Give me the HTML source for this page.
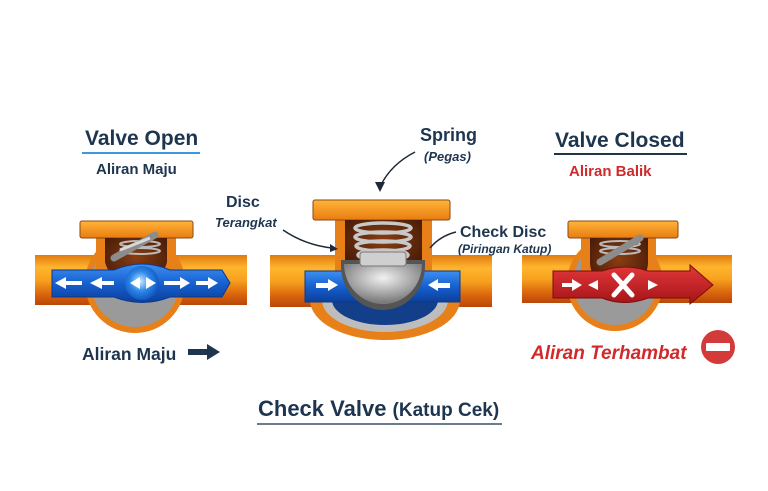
<!DOCTYPE html>
<html><head><meta charset="utf-8"><style>
html,body{margin:0;padding:0;background:#fff;}
svg{display:block;}
text{font-family:"Liberation Sans",sans-serif;font-weight:bold;}
</style></head><body>
<svg width="768" height="491" viewBox="0 0 768 491" xmlns="http://www.w3.org/2000/svg">
<defs>
<linearGradient id="pipe" x1="0" y1="0" x2="0" y2="1">
<stop offset="0" stop-color="#e07a10"/><stop offset="0.25" stop-color="#ffb52e"/><stop offset="0.5" stop-color="#f7a21e"/><stop offset="0.8" stop-color="#d8620c"/><stop offset="1" stop-color="#b9470a"/>
</linearGradient>
<linearGradient id="flange" x1="0" y1="0" x2="0" y2="1">
<stop offset="0" stop-color="#ffb43a"/><stop offset="1" stop-color="#e97c10"/>
</linearGradient>
<radialGradient id="cav" cx="0.5" cy="0.4" r="0.6"><stop offset="0" stop-color="#8a3d12"/><stop offset="1" stop-color="#4a1d08"/></radialGradient>
<linearGradient id="blue" x1="0" y1="0" x2="0" y2="1"><stop offset="0" stop-color="#3d8ff0"/><stop offset="0.5" stop-color="#1660d0"/><stop offset="1" stop-color="#0c3f9a"/></linearGradient>
<linearGradient id="red" x1="0" y1="0" x2="0" y2="1"><stop offset="0" stop-color="#e2383a"/><stop offset="1" stop-color="#a51418"/></linearGradient>
<radialGradient id="disc" cx="0.5" cy="0.35" r="0.6"><stop offset="0" stop-color="#f2f2f2"/><stop offset="1" stop-color="#7c7c7c"/></radialGradient>
<radialGradient id="ball" cx="0.45" cy="0.45" r="0.6"><stop offset="0" stop-color="#c9ecff"/><stop offset="0.5" stop-color="#2c86e8"/><stop offset="1" stop-color="#0d4fb8"/></radialGradient>
</defs>

<!-- LEFT VALVE -->
<rect x="35" y="255" width="212" height="50" fill="url(#pipe)"/>
<circle cx="135" cy="283" r="50" fill="#e8801a"/>
<circle cx="135" cy="283" r="44" fill="#9a9a9a"/>
<rect x="96" y="232" width="80" height="40" fill="#e8801a"/>
<rect x="80" y="221" width="113" height="17" rx="2" fill="url(#flange)" stroke="#8a4a10" stroke-width="1"/>
<path d="M105 238 H167 V262 A32 32 0 0 1 105 262 Z" fill="url(#cav)"/>
<g fill="none" stroke="#bbb" stroke-width="2"><ellipse cx="140" cy="244" rx="20" ry="3"/><ellipse cx="140" cy="251" rx="20" ry="3"/></g>
<path d="M114 258 L155 235" stroke="#8c8c8c" stroke-width="7" stroke-linecap="round"/>
<path d="M120 250 L150 238" stroke="#d8d8d8" stroke-width="3"/>
<path d="M52 270 H114 Q142 258 170 270 H222 L230 283 L222 297 H170 Q142 308 114 297 H52 Z" fill="url(#blue)" stroke="#0a3a8c" stroke-width="1"/>
<circle cx="142" cy="283" r="17" fill="url(#ball)"/>
<g fill="#fff">
<path d="M55 283 L66 277 V289 Z"/><rect x="64" y="281" width="18" height="4"/>
<path d="M90 283 L102 277 V289 Z"/><rect x="100" y="281" width="14" height="4"/>
<path d="M130 283 L140 277 V289 Z"/><path d="M156 283 L146 277 V289 Z"/>
<rect x="164" y="281" width="16" height="4"/><path d="M190 283 L180 277 V289 Z"/>
<rect x="196" y="281" width="12" height="4"/><path d="M218 283 L208 277 V289 Z"/>
</g>

<!-- CENTER VALVE -->
<rect x="270" y="255" width="222" height="52" fill="url(#pipe)"/>
<path d="M310 300 H460 A75 40 0 0 1 310 300 Z" fill="#e8801a"/>
<path d="M322 300 H448 A63 32 0 0 1 322 300 Z" fill="#bdbdbd"/>
<path d="M332 300 H438 A53 25 0 0 1 332 300 Z" fill="#123e8a"/>
<rect x="335" y="214" width="97" height="60" fill="#e8801a"/>
<rect x="313" y="200" width="137" height="20" rx="2" fill="url(#flange)" stroke="#8a4a10" stroke-width="1"/>
<path d="M345 220 H422 V270 H345 Z" fill="url(#cav)"/>
<rect x="305" y="271" width="155" height="31" fill="url(#blue)" stroke="#0a3a8c"/>
<g fill="none" stroke="#c8c8c8" stroke-width="3.5">
<ellipse cx="383" cy="228" rx="28" ry="5"/><ellipse cx="383" cy="237" rx="28" ry="5"/><ellipse cx="383" cy="246" rx="27" ry="5"/><ellipse cx="383" cy="255" rx="25" ry="5"/>
</g>
<path d="M341 266 A42 44 0 0 0 425 266 V260 H341 Z" fill="#555"/>
<path d="M344 264 A39 40 0 0 0 422 264 Z" fill="url(#disc)"/>
<rect x="360" y="252" width="46" height="14" rx="3" fill="#cfcfcf" stroke="#777"/>
<g fill="#fff"><rect x="316" y="283" width="14" height="5"/><path d="M338 285 L328 279 V291 Z"/>
<rect x="436" y="283" width="14" height="5"/><path d="M428 285 L438 279 V291 Z"/></g>

<!-- RIGHT VALVE -->
<rect x="522" y="255" width="210" height="48" fill="url(#pipe)"/>
<circle cx="615" cy="283" r="48" fill="#e8801a"/>
<circle cx="615" cy="283" r="42" fill="#9a9a9a"/>
<rect x="581" y="232" width="75" height="40" fill="#e8801a"/>
<rect x="568" y="221" width="110" height="17" rx="2" fill="url(#flange)" stroke="#8a4a10"/>
<path d="M590 238 H648 V262 A29 29 0 0 1 590 262 Z" fill="url(#cav)"/>
<g fill="none" stroke="#bbb" stroke-width="2"><ellipse cx="620" cy="244" rx="20" ry="3"/><ellipse cx="620" cy="251" rx="20" ry="3"/></g>
<path d="M600 262 L640 238" stroke="#8c8c8c" stroke-width="7" stroke-linecap="round"/>
<path d="M553 271 H602 Q625 263 648 271 H690 V265 L713 285 L690 304 V298 H648 Q625 307 602 298 H553 Z" fill="url(#red)" stroke="#7a0c0c"/>
<g fill="#fff"><rect x="562" y="283" width="12" height="4"/><path d="M582 285 L572 279 V291 Z"/>
<path d="M588 285 L598 280 V290 Z"/><path d="M658 285 L648 280 V290 Z"/></g>
<path d="M614 275 L632 295 M632 275 L614 295" stroke="#fff" stroke-width="5" stroke-linecap="round"/>

<!-- TEXT -->
<text x="85" y="145" font-size="21" fill="#1e3550">Valve Open</text>
<rect x="82" y="152" width="118" height="2" fill="#3d98e0"/>
<text x="96" y="174" font-size="15" fill="#1e3550">Aliran Maju</text>

<text x="420" y="141" font-size="18" fill="#1e3550">Spring</text>
<text x="424" y="161" font-size="13" font-style="italic" fill="#1e3550">(Pegas)</text>
<path d="M415 152 Q390 165 380 187" fill="none" stroke="#1e2a3a" stroke-width="1.5"/>
<path d="M375 182 L380 192 L385 182 Z" fill="#1e2a3a"/>

<text x="555" y="147" font-size="21" fill="#1e3550">Valve Closed</text>
<rect x="554" y="153" width="133" height="2" fill="#1e3550"/>
<text x="569" y="176" font-size="15" fill="#d02a2c">Aliran Balik</text>

<text x="226" y="207" font-size="16" fill="#1e3550">Disc</text>
<text x="215" y="227" font-size="13" font-style="italic" fill="#1e3550">Terangkat</text>
<path d="M283 230 Q305 245 332 248" fill="none" stroke="#1e2a3a" stroke-width="1.5"/>
<path d="M330 244 L338 249 L330 252 Z" fill="#1e2a3a"/>

<text x="460" y="237" font-size="16" fill="#1e3550">Check Disc</text>
<text x="458" y="253" font-size="12" font-style="italic" fill="#1e3550">(Piringan Katup)</text>
<path d="M456 232 Q440 236 430 248" fill="none" stroke="#1e2a3a" stroke-width="1.5"/>

<text x="82" y="360" font-size="17.5" fill="#1e3550">Aliran Maju</text>
<path d="M188 349 H207 V344 L220 352 L207 360 V355 H188 Z" fill="#1e3550"/>

<text x="531" y="359" font-size="19" font-style="italic" fill="#d02a2c">Aliran Terhambat</text>
<circle cx="718" cy="347" r="17" fill="#d33a3a"/>
<rect x="706" y="343" width="24" height="8" rx="1" fill="#fff"/>

<text x="258" y="416" font-size="22" fill="#1e3550">Check Valve <tspan font-size="19">(Katup Cek)</tspan></text>
<rect x="257" y="423" width="245" height="2" fill="#6a7d90"/>
</svg>
</body></html>
